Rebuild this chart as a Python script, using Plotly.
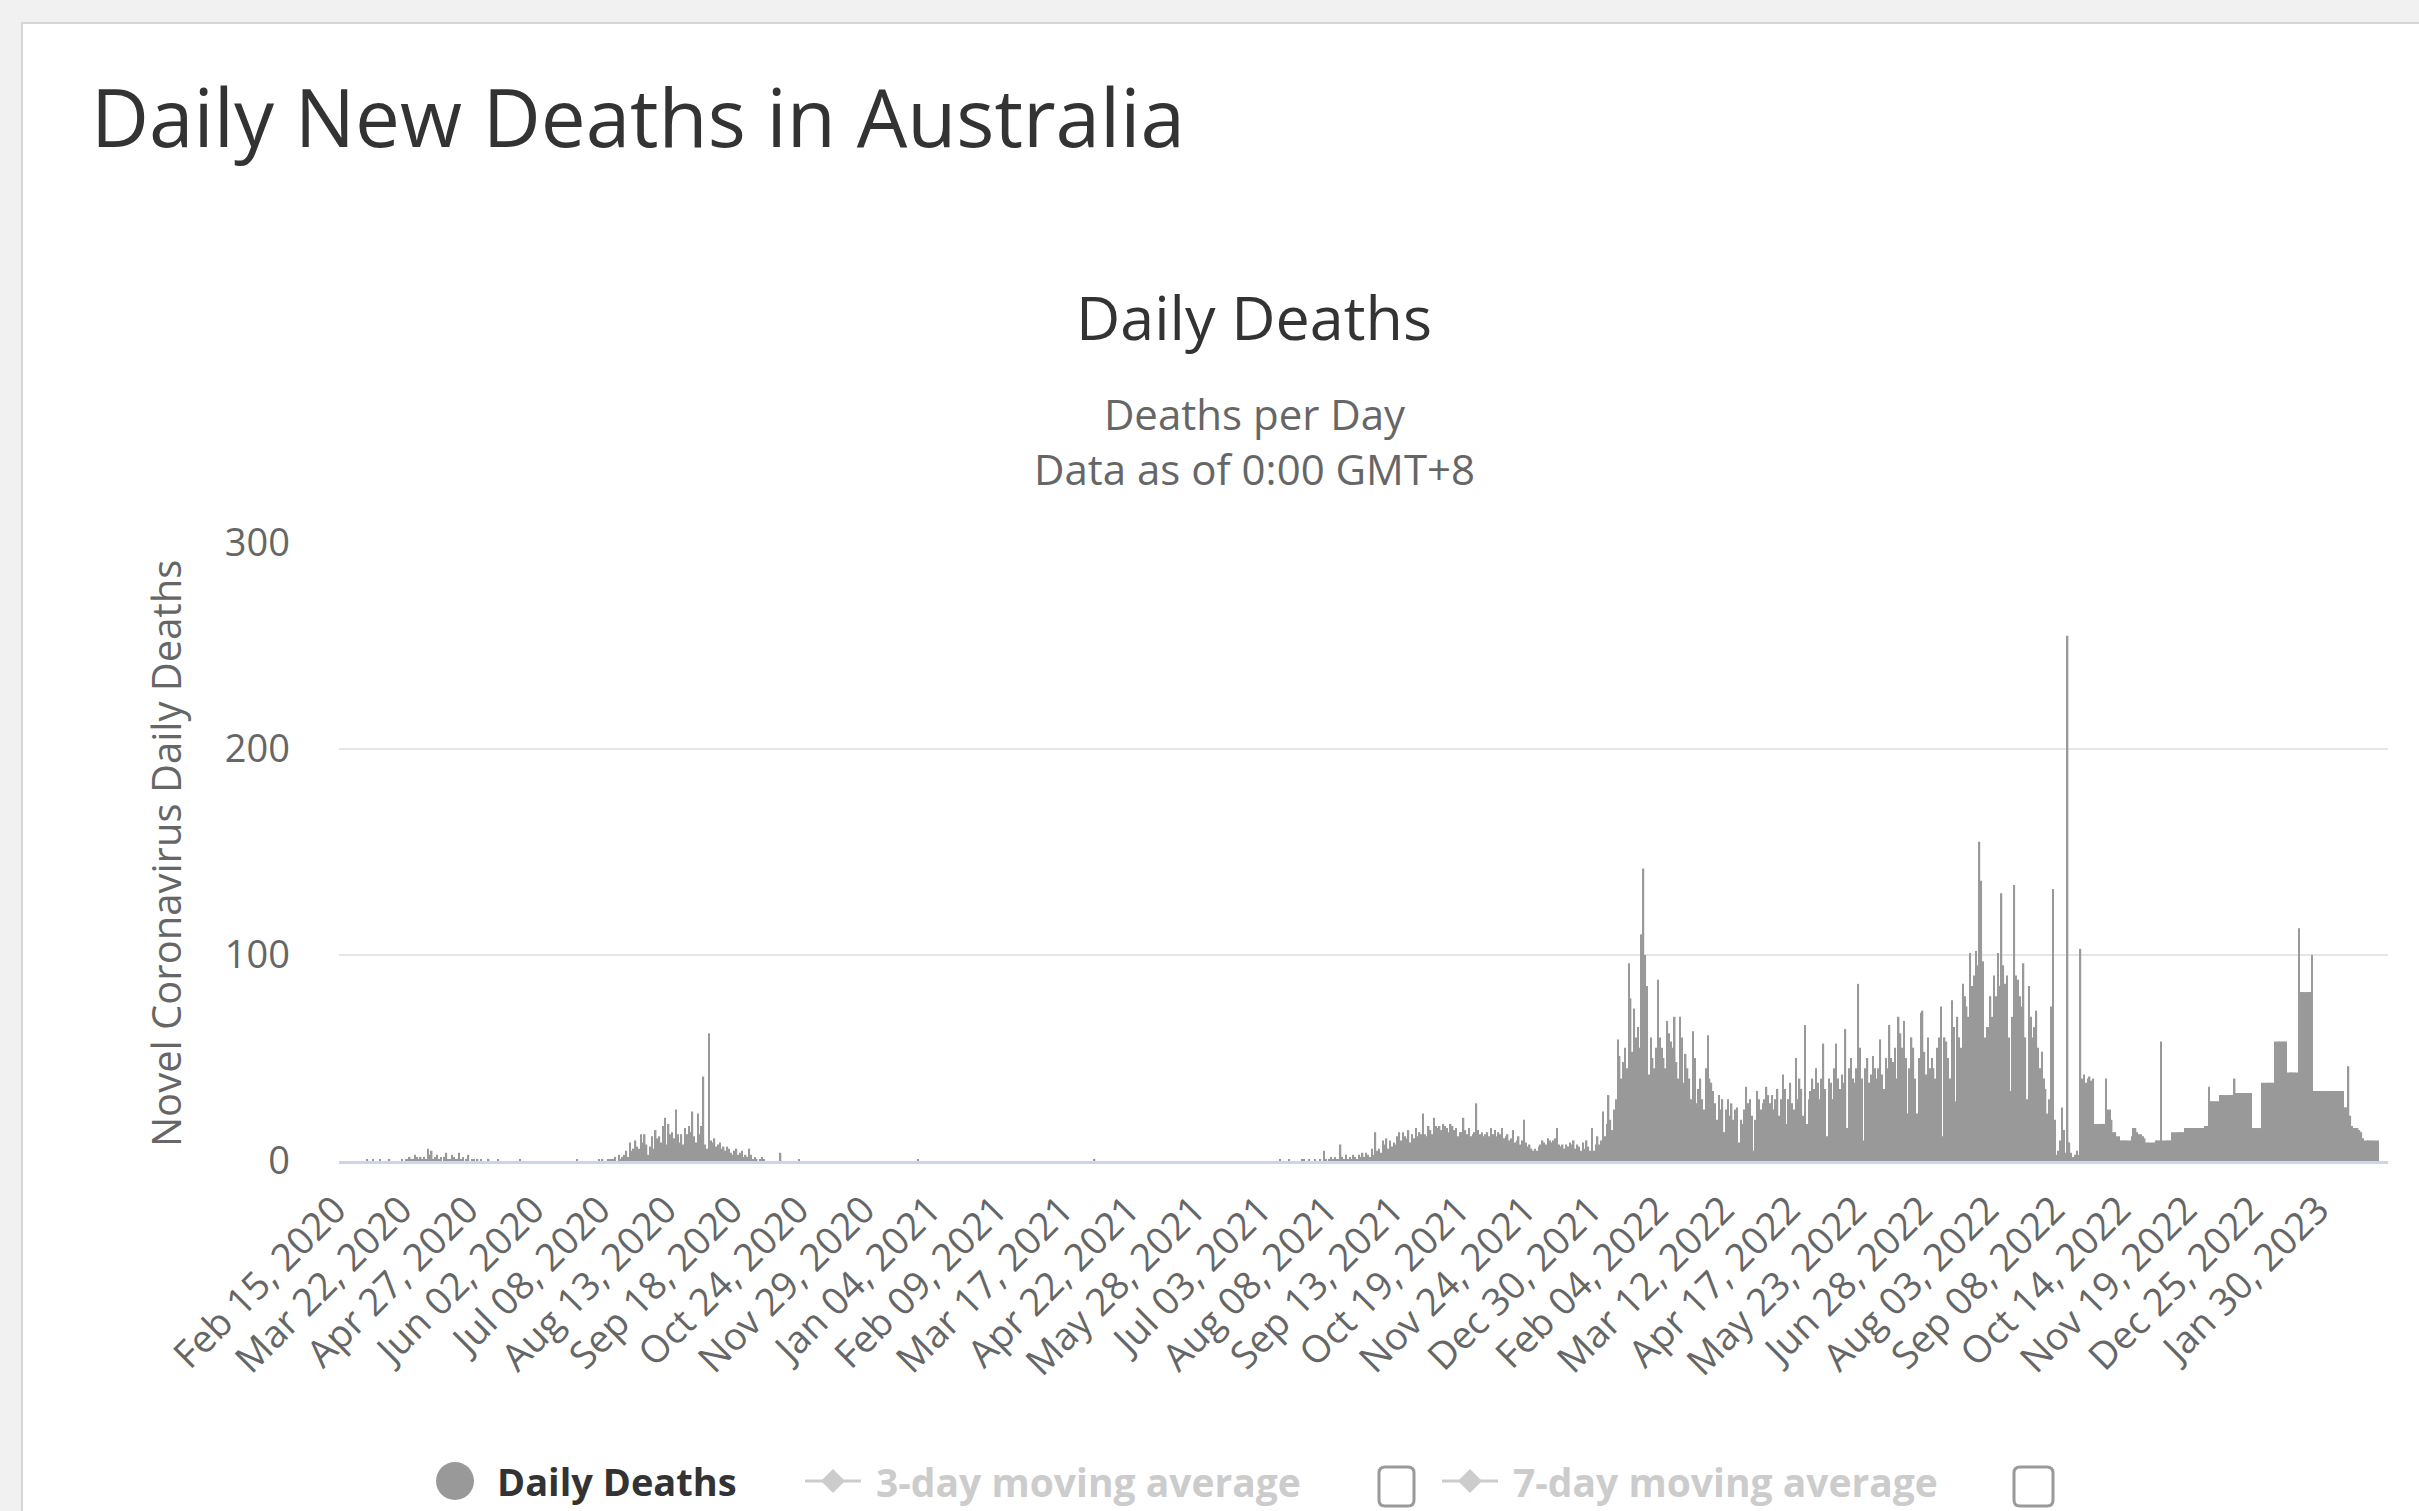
import pandas as pd
import plotly.graph_objects as go

# ---------------- data (daily new deaths, Australia) ----------------
START_DATE = "2020-02-15"

deaths_2020 = [
    0, 0, 0, 0, 0, 0, 0, 0, 0, 0, 0, 0, 0, 0, 0,                                   # Feb 15-29
    1, 0, 0, 1, 0, 0, 0, 1, 0, 0, 0, 0, 1, 0, 0, 0, 0, 0, 0, 1, 0, 1, 1, 2, 1, 1, 3, 2, 1, 2, 1,  # Mar
    2, 1, 6, 3, 5, 1, 2, 3, 1, 2, 0, 2, 4, 1, 1, 3, 2, 1, 1, 4, 1, 2, 0, 1, 3, 0, 1, 1, 0, 1,     # Apr
    0, 1, 0, 0, 0, 1, 0, 0, 0, 0, 1, 0, 0, 0, 0, 0, 0, 0, 0, 0, 0, 0, 1, 0, 0, 0, 0, 0, 0, 0, 0,  # May
    0, 0, 0, 0, 0, 0, 0, 0, 0, 0, 0, 0, 0, 0, 0, 0, 0, 0, 0, 0, 0, 0, 1, 0, 0, 0, 0, 0, 0, 0,     # Jun
    0, 0, 0, 0, 1, 0, 1, 0, 0, 1, 1, 1, 1, 2, 0, 3, 1, 2, 3, 5, 2, 9, 5, 6, 10, 7, 6, 13, 9, 13, 8,  # Jul
    3, 7, 12, 6, 15, 11, 12, 9, 17, 21, 8, 18, 13, 14, 11, 25, 13, 9, 13, 8, 16, 13, 17, 14, 24, 12, 9, 23, 13, 17, 41,  # Aug
    8, 6, 62, 10, 9, 11, 7, 8, 9, 6, 7, 5, 7, 6, 4, 3, 5, 6, 3, 4, 5, 2, 3, 2, 6, 3, 1, 2, 1, 0,  # Sep
    1, 2, 1, 0, 0, 0, 0, 0, 0, 0, 0, 4, 0, 0, 0, 0, 0, 0, 0, 0, 0, 1, 0, 0, 0, 0, 0, 0, 0, 0, 0,  # Oct
    0, 0, 0, 0, 0, 0, 0, 0, 0, 0, 0, 0, 0, 0, 0, 0, 0, 0, 0, 0, 0, 0, 0, 0, 0, 0, 0, 0, 0, 0,     # Nov
    0, 0, 0, 0, 0, 0, 0, 0, 0, 0, 0, 0, 0, 0, 0, 0, 0, 0, 0, 0, 0, 0, 0, 0, 0, 1, 0, 0, 0, 0, 0,  # Dec
]

deaths_2021 = [
    0, 0, 0, 0, 0, 0, 0, 0, 0, 0, 0, 0, 0, 0, 0, 0, 0, 0, 0, 0, 0, 0, 0, 0, 0, 0, 0, 0, 0, 0, 0,  # Jan
    0, 0, 0, 0, 0, 0, 0, 0, 0, 0, 0, 0, 0, 0, 0, 0, 0, 0, 0, 0, 0, 0, 0, 0, 0, 0, 0, 0,           # Feb
    0, 0, 0, 0, 0, 0, 0, 0, 0, 0, 0, 0, 0, 0, 0, 0, 0, 0, 0, 0, 0, 0, 0, 0, 0, 0, 0, 0, 0, 0, 0,  # Mar
    1, 0, 0, 0, 0, 0, 0, 0, 0, 0, 0, 0, 0, 0, 0, 0, 0, 0, 0, 0, 0, 0, 0, 0, 0, 0, 0, 0, 0, 0,     # Apr
    0, 0, 0, 0, 0, 0, 0, 0, 0, 0, 0, 0, 0, 0, 0, 0, 0, 0, 0, 0, 0, 0, 0, 0, 0, 0, 0, 0, 0, 0, 0,  # May
    0, 0, 0, 0, 0, 0, 0, 0, 0, 0, 0, 0, 0, 0, 0, 0, 0, 0, 0, 0, 0, 0, 0, 0, 0, 0, 0, 0, 0, 0,     # Jun
    0, 0, 0, 0, 0, 0, 0, 0, 0, 0, 1, 0, 0, 0, 0, 1, 0, 0, 0, 0, 0, 0, 1, 1, 0, 0, 1, 0, 0, 1, 0,  # Jul
    0, 1, 0, 5, 1, 0, 1, 2, 1, 2, 1, 1, 8, 2, 1, 3, 1, 2, 1, 3, 2, 1, 3, 2, 4, 2, 4, 3, 2, 6, 3,  # Aug
    14, 5, 6, 4, 10, 8, 11, 6, 10, 7, 9, 8, 12, 14, 10, 14, 12, 11, 15, 9, 13, 11, 16, 12, 14, 13, 23, 13, 12, 17,  # Sep
    15, 13, 21, 17, 16, 17, 15, 18, 17, 16, 14, 18, 17, 15, 16, 12, 14, 14, 21, 15, 13, 16, 12, 13, 14, 28, 15, 13, 14, 12, 13,  # Oct
    14, 12, 16, 13, 15, 12, 14, 13, 16, 11, 12, 13, 10, 11, 15, 9, 10, 12, 8, 10, 20, 9, 7, 8, 6, 5, 6, 5, 7, 8,  # Nov
    10, 9, 8, 11, 10, 9, 10, 11, 16, 8, 7, 8, 6, 8, 7, 9, 8, 10, 6, 8, 7, 5, 9, 6, 10, 7, 5, 16, 5, 8, 12,  # Dec
]

deaths_2022 = [
    8, 10, 24, 12, 18, 32, 20, 15, 25, 30, 59, 51, 40, 48, 55, 45, 96, 79, 53, 74, 60, 65, 55, 110, 142, 100, 85, 42, 60, 50, 45,  # Jan
    55, 88, 60, 55, 50, 45, 68, 62, 58, 55, 70, 48, 40, 70, 60, 38, 52, 45, 40, 30, 63, 50, 28, 35, 40, 30, 25, 45,  # Feb
    61, 40, 38, 34, 28, 20, 32, 25, 30, 14, 25, 30, 22, 28, 20, 25, 26, 9, 20, 18, 25, 36, 28, 30, 22, 5, 20, 34, 30, 25, 28,  # Mar
    30, 36, 32, 28, 32, 25, 30, 35, 22, 30, 42, 35, 18, 30, 38, 28, 25, 50, 30, 40, 35, 22, 66, 18, 30, 34, 40, 35, 45, 38,  # Apr
    30, 40, 57, 35, 12, 40, 38, 30, 45, 57, 40, 35, 42, 38, 64, 16, 45, 50, 40, 38, 45, 86, 55, 40, 10, 45, 50, 38, 42, 51, 45,  # May
    40, 45, 59, 42, 35, 50, 45, 66, 50, 48, 55, 40, 70, 62, 55, 68, 50, 23, 45, 60, 55, 40, 23, 50, 72, 73, 53, 42, 60, 45,  # Jun
    50, 45, 40, 55, 60, 75, 12, 60, 58, 50, 40, 78, 65, 29, 70, 60, 55, 86, 80, 75, 70, 101, 85, 90, 102, 95, 155, 136, 97, 60, 65,  # Jul
    65, 80, 70, 90, 80, 101, 85, 130, 95, 86, 90, 60, 34, 70, 134, 90, 88, 80, 75, 96, 60, 30, 85, 70, 60, 65, 73, 55, 45, 53, 40,  # Aug
    35, 23, 30, 75, 132, 20, 3, 5, 10, 26, 15, 4, 255, 9, 4, 2, 3, 5, 3, 103, 40, 42, 38, 40, 41, 39, 40, 18, 18, 18,  # Sep
    18, 18, 18, 40, 25, 25, 20, 14, 14, 12, 12, 10, 10, 10, 10, 10, 10, 12, 16, 16, 14, 13, 13, 12, 11, 9, 9, 9, 9, 9, 10,  # Oct
    10, 10, 58, 10, 10, 10, 10, 10, 14, 14, 14, 14, 14, 14, 14, 16, 16, 16, 16, 16, 16, 16, 16, 16, 16, 16, 17, 17, 36, 29,  # Nov
    29, 29, 29, 29, 32, 32, 32, 32, 32, 32, 32, 32, 40, 33, 33, 33, 33, 33, 33, 33, 33, 33, 16, 16, 16, 16, 16, 38, 38, 38, 38,  # Dec
]

deaths_2023 = [
    38, 38, 38, 58, 58, 58, 58, 58, 58, 58, 43, 43, 43, 43, 43, 43, 113, 82, 82, 82, 82, 82, 82, 100, 34, 34, 34, 34, 34, 34, 34,  # Jan
    34, 34, 34, 34, 34, 34, 34, 34, 34, 34, 26, 26, 46, 22, 17, 16, 16, 16, 15, 14, 11, 10, 10, 10, 10, 10, 10, 10,  # Feb
    10,  # Mar 1
]

Y_TICKS = [0, 100, 200, 300]
TICK_STEP = 36  # one x label every 36 days

SERIES_NAME = "Daily Deaths"
LEGEND_NAMES = ["Daily Deaths", "3-day moving average", "7-day moving average"]

assert len(deaths_2020) == 321, len(deaths_2020)
assert len(deaths_2021) == 365, len(deaths_2021)
assert len(deaths_2022) == 365, len(deaths_2022)
assert len(deaths_2023) == 60, len(deaths_2023)

values = deaths_2020 + deaths_2021 + deaths_2022 + deaths_2023
dates = pd.date_range(START_DATE, periods=len(values), freq="D")
categories = [d.strftime("%b %d, %Y") for d in dates]
tick_vals = categories[::TICK_STEP]

# ---------------- layout geometry ----------------
W, H = 2419, 1511
L, R, T, B = 339, 31, 543, 350
PW, PH = W - L - R, H - T - B
BASE = H - B


def px(x):
    return (x - L) / PW


def py(y):
    return (BASE - y) / PH


FONT = "Open Sans, DejaVu Sans, sans-serif"

fig = go.Figure()
fig.add_trace(go.Bar(
    x=categories, y=values, name=SERIES_NAME,
    marker=dict(color="#999999", line=dict(width=0)),
    showlegend=False,
))

shapes = []
# page card
shapes.append(dict(type="rect", xref="paper", yref="paper", layer="below",
                   x0=px(22), x1=px(W + 20), y0=py(H + 20), y1=py(23),
                   fillcolor="white", line=dict(color="#d6d6d6", width=2)))


def rounded_rect(x0, y0, x1, y1, r):
    X0, X1 = px(x0), px(x1)
    Y0, Y1 = py(y0), py(y1)
    rx, ry = r / PW, r / PH
    return (f"M {X0 + rx},{Y0} L {X1 - rx},{Y0} Q {X1},{Y0} {X1},{Y0 - ry} "
            f"L {X1},{Y1 + ry} Q {X1},{Y1} {X1 - rx},{Y1} L {X0 + rx},{Y1} "
            f"Q {X0},{Y1} {X0},{Y1 + ry} L {X0},{Y0 - ry} Q {X0},{Y0} {X0 + rx},{Y0} Z")


def diamond(cx, cy, s):
    return (f"M {px(cx)},{py(cy - s)} L {px(cx + s)},{py(cy)} "
            f"L {px(cx)},{py(cy + s)} L {px(cx - s)},{py(cy)} Z")


LEG_Y = 1481
# legend: circle for Daily Deaths
shapes.append(dict(type="circle", xref="paper", yref="paper",
                   x0=px(436), x1=px(474), y0=py(LEG_Y + 19), y1=py(LEG_Y - 19),
                   fillcolor="#999999", line=dict(width=0)))
# hidden-series legend icons (line + diamond)
for lx0, lx1, cx in [(805, 861, 833), (1442, 1498, 1470)]:
    shapes.append(dict(type="line", xref="paper", yref="paper",
                       x0=px(lx0), x1=px(lx1), y0=py(LEG_Y), y1=py(LEG_Y),
                       line=dict(color="#cccccc", width=3)))
    shapes.append(dict(type="path", xref="paper", yref="paper",
                       path=diamond(cx, LEG_Y, 12), fillcolor="#cccccc",
                       line=dict(width=0)))
# checkboxes
for cx0, cx1 in [(1379, 1414), (2014, 2053)]:
    shapes.append(dict(type="path", xref="paper", yref="paper",
                       path=rounded_rect(cx0, 1467, cx1, 1506, 6),
                       fillcolor="white", line=dict(color="#9a9a9a", width=3)))

annotations = [
    dict(text="Daily New Deaths in Australia", x=px(89), y=py(116),
         xanchor="left", yanchor="middle", font=dict(size=80, color="#333333")),
    dict(text="Daily Deaths", x=px(1254), y=py(316),
         xanchor="center", yanchor="middle", font=dict(size=61, color="#333333")),
    dict(text="Deaths per Day<br>Data as of 0:00 GMT+8", x=px(1254), y=py(441),
         xanchor="center", yanchor="middle", align="center",
         font=dict(size=42, color="#666666")),
    dict(text="Novel Coronavirus Daily Deaths", x=px(165), y=py(854),
         xanchor="center", yanchor="middle", textangle=-90,
         font=dict(size=40, color="#666666")),
    dict(text=f"<b>{LEGEND_NAMES[0]}</b>", x=px(495), y=py(LEG_Y),
         xanchor="left", yanchor="middle", font=dict(size=38, color="#333333")),
    dict(text=f"<b>{LEGEND_NAMES[1]}</b>", x=px(874), y=py(LEG_Y),
         xanchor="left", yanchor="middle", font=dict(size=39, color="#cccccc")),
    dict(text=f"<b>{LEGEND_NAMES[2]}</b>", x=px(1511), y=py(LEG_Y),
         xanchor="left", yanchor="middle", font=dict(size=39, color="#cccccc")),
]
for a in annotations:
    a.update(xref="paper", yref="paper", showarrow=False)

fig.update_layout(
    width=W, height=H,
    margin=dict(l=L, r=R, t=T, b=B, pad=0),
    paper_bgcolor="#f1f1f1",
    plot_bgcolor="white",
    font=dict(family=FONT, color="#666666"),
    bargap=0.2,
    showlegend=False,
    shapes=shapes,
    annotations=annotations,
    xaxis=dict(
        type="category",
        categoryorder="array", categoryarray=categories,
        range=[-0.5, len(values) + 4.5],
        tickmode="array", tickvals=tick_vals, ticktext=tick_vals,
        tickangle=-45,
        tickfont=dict(size=38, color="#666666"),
        showgrid=False,
        showline=True, linecolor="#ccd6eb", linewidth=3,
        ticks="", ticklabelstandoff=8, ticklabelshift=-5,
        zeroline=False,
    ),
    yaxis=dict(
        range=[0, 300],
        tickmode="array", tickvals=Y_TICKS,
        tickfont=dict(size=38, color="#666666"),
        showgrid=True, gridcolor="#e6e6e6", gridwidth=2,
        zeroline=False, showline=False,
        ticks="", ticklabelstandoff=48,
    ),
)

fig.write_html("out.html",
               config={"displayModeBar": False},
               post_script="document.body.style.margin='0';document.body.style.overflow='hidden';")
